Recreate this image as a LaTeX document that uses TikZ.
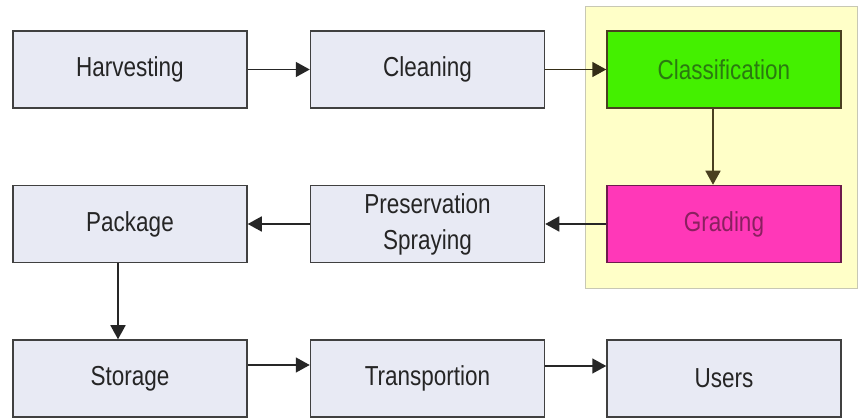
\documentclass[tikz,border=0pt]{standalone}
\usepackage{fontspec}
\setmainfont{Liberation Sans}
\usetikzlibrary{arrows.meta}
\definecolor{boxfill}{HTML}{E8EAF4}
\definecolor{boxline}{HTML}{404040}
\definecolor{txt}{HTML}{252525}
\definecolor{yel}{HTML}{FFFFC8}
\definecolor{yelline}{HTML}{C8C8B4}
\definecolor{grn}{HTML}{44F000}
\definecolor{grntxt}{HTML}{2A7A10}
\definecolor{mag}{HTML}{FF38B8}
\definecolor{magtxt}{HTML}{8A2060}
\definecolor{olive}{HTML}{4A4020}
\newcommand{\tallt}[1]{\scalebox{1}[1.22]{#1}}
\tikzset{
  stagebox/.style={draw=boxline, line width=1.5pt, fill=boxfill, minimum width=234pt, minimum height=77pt, inner sep=0pt, font=\fontsize{22.5}{30}\selectfont, text=txt, align=center},
  conn/.style={draw=black!85, line width=1.6pt, -{Triangle[length=14pt,width=15pt]}}
}
\begin{document}
\begin{tikzpicture}[x=1pt,y=-1pt]
\useasboundingbox (0,0) rectangle (859,419);
\fill[white] (0,0) rectangle (859,419);
\draw[draw=yelline, fill=yel, line width=1pt] (585,7) rectangle (857,289);
\node[stagebox] (harv) at (130,69.5) {\tallt{Harvesting}};
\node[stagebox] (clean) at (427.5,69.5) {\tallt{Cleaning}};
\node[stagebox, fill=grn, draw=olive, text=grntxt] (class) at (724,69.5) {\tallt{Classification}};
\node[stagebox, fill=mag, draw=magtxt!80!black, text=magtxt] (grade) at (724,224) {\tallt{Grading}};
\node[stagebox] (pres) at (427.5,224) {\tallt{\begin{tabular}{c}Preservation\\[-1pt]Spraying\end{tabular}}};
\node[stagebox] (pack) at (130,224) {\tallt{Package}};
\node[stagebox] (stor) at (130,378.5) {\tallt{Storage}};
\node[stagebox] (trans) at (427.5,378.5) {\tallt{Transportion}};
\node[stagebox] (users) at (724,378.5) {\tallt{Users}};
\draw[conn] (harv.east) -- (clean.west);
\draw[conn, draw=olive!70!black] (clean.east) -- (class.west);
\draw[conn, draw=olive] ([xshift=-11pt]class.south) -- ([xshift=-11pt]grade.north);
\draw[conn] (grade.west) -- (pres.east);
\draw[conn] (pres.west) -- (pack.east);
\draw[conn] ([xshift=-12pt]pack.south) -- ([xshift=-12pt]stor.north);
\draw[conn] ([yshift=13.5pt]stor.east) -- ([yshift=13.5pt]trans.west);
\draw[conn] ([yshift=12.5pt]trans.east) -- ([yshift=12.5pt]users.west);
\end{tikzpicture}
\end{document}
